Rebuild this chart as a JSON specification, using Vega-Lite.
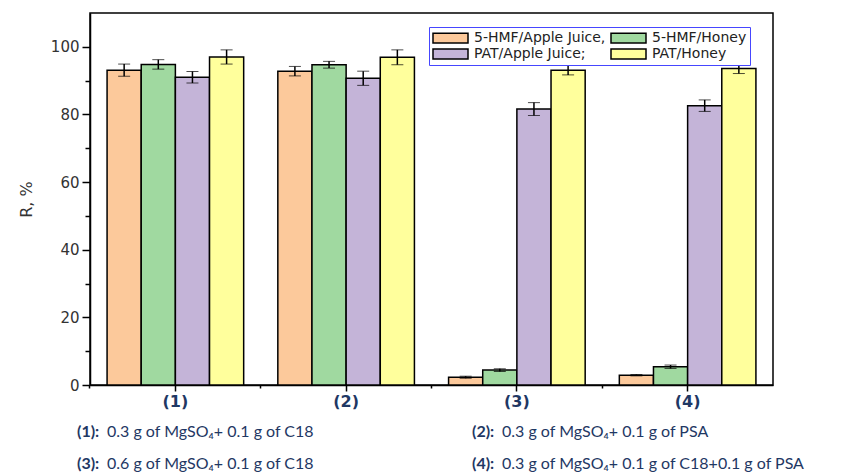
{
  "$schema": "https://vega.github.io/schema/vega-lite/v6.json",
  "background": "white",
  "padding": {"left": 17, "top": 12, "right": 0, "bottom": 0},
  "spacing": 14,
  "config": {
    "view": {"stroke": null},
    "font": "DejaVu Sans",
    "axis": {"domainColor": "black", "tickColor": "black", "domainWidth": 1.5, "tickWidth": 1.5, "grid": false}
  },
  "datasets": {
    "recovery": [
      {"group": "(1)", "series": "5-HMF/Apple Juice", "value": 93.1, "err": 1.8},
      {"group": "(1)", "series": "5-HMF/Honey", "value": 94.8, "err": 1.4},
      {"group": "(1)", "series": "PAT/Apple Juice", "value": 91.0, "err": 1.7},
      {"group": "(1)", "series": "PAT/Honey", "value": 97.0, "err": 2.1},
      {"group": "(2)", "series": "5-HMF/Apple Juice", "value": 92.8, "err": 1.4},
      {"group": "(2)", "series": "5-HMF/Honey", "value": 94.7, "err": 1.0},
      {"group": "(2)", "series": "PAT/Apple Juice", "value": 90.7, "err": 2.1},
      {"group": "(2)", "series": "PAT/Honey", "value": 96.9, "err": 2.2},
      {"group": "(3)", "series": "5-HMF/Apple Juice", "value": 2.3, "err": 0.3},
      {"group": "(3)", "series": "5-HMF/Honey", "value": 4.4, "err": 0.4},
      {"group": "(3)", "series": "PAT/Apple Juice", "value": 81.6, "err": 1.9},
      {"group": "(3)", "series": "PAT/Honey", "value": 93.1, "err": 1.4},
      {"group": "(4)", "series": "5-HMF/Apple Juice", "value": 2.9, "err": 0.2},
      {"group": "(4)", "series": "5-HMF/Honey", "value": 5.4, "err": 0.5},
      {"group": "(4)", "series": "PAT/Apple Juice", "value": 82.6, "err": 1.7},
      {"group": "(4)", "series": "PAT/Honey", "value": 93.6, "err": 1.5}
    ],
    "notes": [
      {"col": "a", "row": 1, "tag": "(1):", "body": "0.3 g of MgSO₄+ 0.1 g of C18"},
      {"col": "b", "row": 1, "tag": "(2):", "body": "0.3 g of MgSO₄+ 0.1 g of PSA"},
      {"col": "a", "row": 2, "tag": "(3):", "body": "0.6 g of MgSO₄+ 0.1 g of C18"},
      {"col": "b", "row": 2, "tag": "(4):", "body": "0.3 g of MgSO₄+ 0.1 g of C18+0.1 g of PSA"}
    ]
  },
  "vconcat": [
    {
      "width": 683,
      "height": 372,
      "view": {"stroke": "black", "strokeWidth": 1.5},
      "data": {"name": "recovery"},
      "layer": [
        {
          "mark": {"type": "bar", "stroke": "black", "strokeWidth": 1.5},
          "encoding": {
            "x": {
              "field": "group", "type": "nominal",
              "scale": {"paddingInner": 0.2, "paddingOuter": 0.1},
              "axis": {"orient": "bottom", "title": null, "labelAngle": 0, "labelFont": "DejaVu Sans", "labelFontWeight": "bold", "labelFontSize": 16, "labelColor": "#1F3864", "tickSize": 6, "labelPadding": 2}
            },
            "xOffset": {"field": "series", "type": "nominal", "scale": {"paddingInner": 0, "paddingOuter": 0}},
            "y": {
              "field": "value", "type": "quantitative",
              "scale": {"domain": [0, 110], "nice": false},
              "axis": {
                "orient": "left", "title": "R, %",
                "values": [0, 10, 20, 30, 40, 50, 60, 70, 80, 90, 100],
                "labelExpr": "datum.value % 20 === 0 ? datum.label : ''",
                "tickSize": {"condition": {"test": "datum.value % 20 === 0", "value": 8}, "value": 5},
                "labelFont": "DejaVu Sans", "labelFontSize": 15, "labelColor": "#333333", "labelPadding": 3,
                "titleFont": "DejaVu Sans", "titleFontSize": 16, "titleFontWeight": "normal", "titleColor": "#333333", "titlePadding": 16
              }
            },
            "color": {
              "field": "series", "type": "nominal",
              "scale": {
                "domain": ["5-HMF/Apple Juice", "PAT/Apple Juice", "5-HMF/Honey", "PAT/Honey"],
                "range": ["#FCC99B", "#C4B4D8", "#A0D9A0", "#FFFF9C"]
              },
              "legend": {
                "orient": "none", "legendX": 339, "legendY": 14, "columns": 2, "title": null,
                "symbolType": "M-1,-0.7H4V0.7H-1Z", "symbolSize": 196,
                "symbolStrokeColor": "black", "symbolStrokeWidth": 1.5, "symbolOpacity": 1,
                "labelFont": "DejaVu Sans", "labelFontSize": 14, "labelColor": "#222222", "labelOffset": 26, "labelLimit": 300,
                "labelExpr": "datum.label === '5-HMF/Apple Juice' ? '5-HMF/Apple Juice,' : datum.label === 'PAT/Apple Juice' ? 'PAT/Apple Juice;' : datum.label",
                "strokeColor": "#4646ff", "fillColor": "white", "padding": 3, "rowPadding": 0, "columnPadding": 2
              }
            }
          }
        },
        {
          "mark": {"type": "errorbar", "ticks": {"size": 12, "strokeWidth": 1.5, "color": "black"}, "rule": {"strokeWidth": 1.5, "color": "black"}},
          "encoding": {
            "x": {"field": "group", "type": "nominal", "axis": {"orient": "bottom", "bandPosition": -0.125, "labels": false, "domain": false, "tickSize": 3, "title": null}},
            "xOffset": {"field": "series", "type": "nominal"},
            "y": {"field": "value", "type": "quantitative", "scale": {"domain": [0, 110], "nice": false}, "axis": null},
            "yError": {"field": "err"}
          }
        }
      ],
      "resolve": {"scale": {"y": "independent"}, "axis": {"x": "independent"}}
    },
    {
      "width": 395,
      "height": 32,
      "data": {"name": "notes"},
      "encoding": {
        "x": {"field": "col", "type": "nominal", "scale": {"type": "point", "padding": 0}, "axis": null},
        "y": {"field": "row", "type": "ordinal", "scale": {"type": "point", "padding": 0}, "axis": null}
      },
      "layer": [
        {
          "mark": {"type": "text", "align": "left", "baseline": "middle", "font": "Lato", "fontSize": 16, "fontWeight": "bold", "color": "#1F3864", "dx": -13},
          "encoding": {"text": {"field": "tag"}}
        },
        {
          "mark": {"type": "text", "align": "left", "baseline": "middle", "font": "Lato", "fontSize": 16, "color": "#1F3864", "dx": 17},
          "encoding": {"text": {"field": "body"}}
        }
      ]
    }
  ]
}
